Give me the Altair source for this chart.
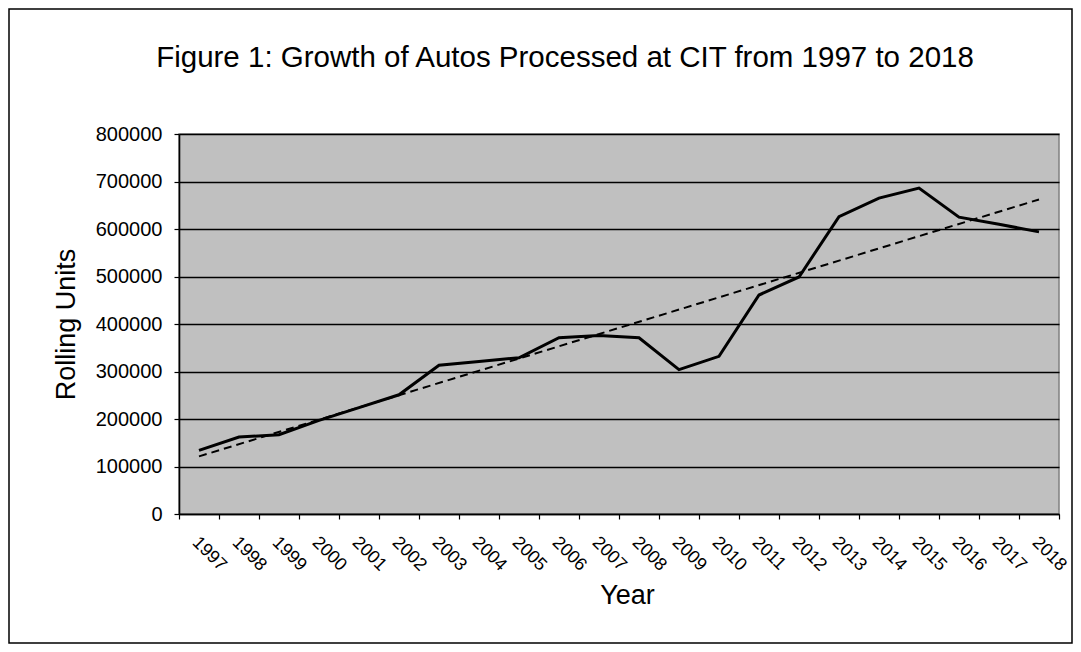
import altair as alt
import pandas as pd

years = list(range(1997, 2019))
units = [134000, 162000, 167000, 197000, 224000, 251000, 313000, 321000,
         329000, 371000, 376000, 371000, 304000, 332000, 461000, 499000,
         626000, 665000, 686000, 625000, 610000, 594000]
y_ticks = [0, 100000, 200000, 300000, 400000, 500000, 600000, 700000, 800000]
title_text = "Figure 1: Growth of Autos Processed at CIT from 1997 to 2018"

df = pd.DataFrame({"Year": years, "Units": units})

FONT = "Liberation Sans"
W, H = 880, 380
PAD_L, PAD_T = 171, 126
SVG_W, SVG_H = 1065, 636

x_enc = alt.X(
    "Year:O",
    bandPosition=0.5,
    scale=alt.Scale(type="band", paddingInner=0, paddingOuter=0, domain=years),
    axis=alt.Axis(
        title="Year", labelAngle=45, labelAlign="left", labelBaseline="top",
        labelFont=FONT, labelFontSize=18, labelColor="black",
        labelPadding=14, labelOffset=2,
        tickBand="extent", tickColor="black", tickSize=5, tickWidth=1.2,
        domainColor="black", domainWidth=1.6,
        titleFont=FONT, titleFontSize=27, titleFontWeight="normal", titleColor="black",
        titleX=448, titleY=89, titleBaseline="alphabetic", titleAlign="center",
        grid=False,
    ),
)
y_enc = alt.Y(
    "Units:Q",
    scale=alt.Scale(domain=[0, 800000], nice=False),
    axis=alt.Axis(
        title="Rolling Units", values=y_ticks, format="d",
        labelFont=FONT, labelFontSize=20, labelColor="black", labelPadding=12,
        tickColor="black", tickSize=5, tickWidth=1.2,
        domainColor="black", domainWidth=1.6,
        grid=True, gridColor="black", gridWidth=1.3, gridOpacity=1,
        titleFont=FONT, titleFontSize=27, titleFontWeight="normal", titleColor="black",
        titleAngle=-90, titleX=-113, titleY=190, titleAlign="center",
        titleBaseline="middle",
    ),
)

base = alt.Chart(df)

frame = base.transform_filter("datum.Year == 1997").mark_rect(
    fill="white", fillOpacity=0, stroke="black", strokeWidth=1.5, clip=False
).encode(
    x=alt.value(-PAD_L + 1), x2=alt.value(SVG_W - PAD_L - 1),
    y=alt.value(-PAD_T + 1), y2=alt.value(SVG_H - PAD_T - 1),
)

line = base.mark_line(color="black", strokeWidth=3).encode(x=x_enc, y=y_enc)

trend = base.transform_regression("Year", "Units").mark_line(
    color="black", strokeWidth=2, strokeDash=[8, 5]
).encode(x=alt.X("Year:O", bandPosition=0.5), y="Units:Q")

title = base.transform_filter("datum.Year == 1997").mark_text(
    text=title_text, font=FONT, fontSize=29.5, color="black",
    align="center", baseline="alphabetic", clip=False
).encode(x=alt.value(386), y=alt.value(-67))

chart = alt.layer(frame, trend, line, title).properties(
    width=W, height=H,
    autosize=alt.AutoSizeParams(type="none"),
    padding={"left": PAD_L, "top": PAD_T,
             "right": SVG_W - PAD_L - W, "bottom": SVG_H - PAD_T - H},
).configure_view(
    fill="#c0c0c0", stroke="#808080", strokeWidth=1.5
)

chart.save("out.html", embed_options={"renderer": "svg", "actions": False})
